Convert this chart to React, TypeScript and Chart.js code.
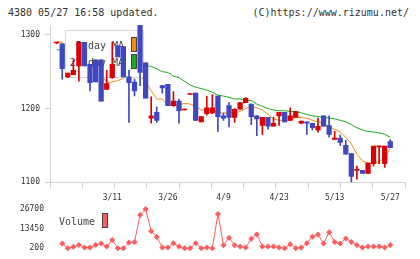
import React, { useEffect, useRef } from 'react';
import { Chart, registerables } from 'chart.js';

Chart.register(...registerables);

// ---- data ----
const openP = [1289, 1288, 1243, 1246, 1258, 1290, 1260, 1266, 1266, 1226, 1242, 1285, 1284, 1243, 1236, 1313, 1262, 1187, 1195, 1231, 1233, 1204, 1210, 1198, 1219, 1221, 1182, 1193, 1194, 1217, 1190, 1204, 1188, 1199, 1208, 1206, 1190, 1177, 1188, 1176, 1190, 1195, 1184, 1188, 1180, 1182, 1180, 1171, 1190, 1177, 1158, 1160, 1150, 1139, 1116, 1116, 1112, 1125, 1148, 1125, 1155];
const highP = [1290, 1288, 1248, 1266, 1290, 1290, 1260, 1266, 1266, 1252, 1290, 1285, 1284, 1252, 1240, 1313, 1262, 1216, 1202, 1231, 1233, 1223, 1213, 1198, 1219, 1221, 1189, 1217, 1219, 1217, 1194, 1208, 1200, 1208, 1215, 1206, 1190, 1188, 1188, 1188, 1195, 1195, 1201, 1196, 1183, 1182, 1180, 1187, 1190, 1190, 1169, 1164, 1157, 1139, 1122, 1116, 1126, 1149, 1149, 1149, 1158];
const lowP = [1288, 1240, 1242, 1246, 1237, 1258, 1224, 1236, 1210, 1226, 1241, 1270, 1243, 1181, 1217, 1231, 1214, 1180, 1181, 1221, 1204, 1203, 1180, 1198, 1219, 1184, 1182, 1191, 1193, 1169, 1184, 1175, 1181, 1199, 1208, 1178, 1163, 1165, 1172, 1176, 1177, 1182, 1184, 1188, 1179, 1165, 1171, 1168, 1176, 1161, 1158, 1150, 1138, 1099, 1104, 1112, 1112, 1122, 1125, 1120, 1147];
const closeP = [1289, 1254, 1248, 1252, 1290, 1258, 1235, 1236, 1210, 1234, 1260, 1270, 1243, 1235, 1224, 1249, 1214, 1190, 1184, 1228, 1204, 1210, 1197, 1198, 1219, 1184, 1189, 1201, 1201, 1189, 1187, 1188, 1199, 1208, 1214, 1189, 1186, 1188, 1176, 1180, 1195, 1182, 1190, 1196, 1183, 1180, 1174, 1176, 1176, 1165, 1160, 1154, 1138, 1108, 1116, 1112, 1126, 1149, 1149, 1149, 1147];
const ma5 = [1291, 1290, 1280, 1272, 1267, 1260, 1257, 1254, 1246, 1235, 1236, 1238, 1241, 1245, 1246, 1244, 1236, 1224, 1213, 1213, 1205, 1204, 1205, 1207, 1206, 1203, 1198, 1198, 1198, 1194, 1194, 1194, 1194, 1196, 1200, 1203, 1201, 1198, 1192, 1186, 1184, 1184, 1184, 1188, 1188, 1187, 1184, 1182, 1179, 1175, 1172, 1168, 1161, 1152, 1138, 1129, 1126, 1125, 1128, 1133, 1146];
const ma25 = [1280, 1279, 1278, 1277, 1277, 1276, 1274, 1273, 1271, 1270, 1268, 1267, 1266, 1265, 1263, 1261, 1259, 1257, 1254, 1250, 1249, 1244, 1242, 1237, 1232, 1229, 1227, 1225, 1222, 1218, 1217, 1215, 1213, 1213, 1211, 1211, 1206, 1203, 1200, 1198, 1197, 1197, 1196, 1196, 1194, 1192, 1190, 1189, 1188, 1187, 1186, 1184, 1182, 1178, 1174, 1171, 1169, 1168, 1167, 1165, 1161];
const volume: (number | null)[] = [null, 3300, 200, 1100, 2400, 700, 700, 2400, 3300, 1300, 5700, 200, 200, 4000, 4400, 22700, 26700, 11700, 7700, 700, 700, 3500, 1300, 200, 200, 3500, 200, 700, 200, 23400, 2200, 7300, 2200, 1300, 700, 6600, 9500, 1300, 1300, 1300, 700, 200, 2900, 200, 700, 3500, 8000, 9500, 3300, 11000, 4400, 3300, 6800, 4400, 2400, 700, 1300, 1300, 1300, 700, 2400];
const priceTicks = [1100, 1200, 1300];
const volumeTicks = [200, 13450, 26700];
const dateTickIndex = [10, 20, 30, 40, 50, 60];
const dateTickLabels = ['3/11', '3/26', '4/9', '4/23', '5/13', '5/27'];

// ---- styling ----
const X_MIN = -1.2;
const X_MAX = 62.65;
const P_MIN = 1100;
const P_MAX = 1313.4;
const MONO = '"DejaVu Sans Mono", monospace';
const UP = '#dd0000';
const DOWN = '#3f48c0';
const MA5_C = '#f08c14';
const MA25_C = '#1aaa1a';
const VOL_C = '#ff5c5c';
const AXIS_C = '#d4d4d4';
const TEXT_C = '#333333';

function PriceChart() {
  const ref = useRef<HTMLCanvasElement>(null);
  useEffect(() => {
    const idx = openP.map((_, i) => i);
    const colors = openP.map((o, i) => (closeP[i] >= o ? UP : DOWN));
    const legendPlugin = {
      id: 'maLegend',
      beforeDatasetDraw(chart: any, args: any) {
        if (args.index !== 2) return;
        const ctx = chart.ctx as CanvasRenderingContext2D;
        ctx.save();
        ctx.fillStyle = '#ffffff';
        ctx.fillRect(66, 30, 77, 47);
        ctx.strokeStyle = '#d8d8d8';
        ctx.lineWidth = 1;
        ctx.strokeRect(65.5, 30.5, 78, 47);
        ctx.font = '10px ' + MONO;
        ctx.fillStyle = '#444444';
        ctx.textAlign = 'right';
        ctx.textBaseline = 'middle';
        ctx.fillText('5-day MA', 124, 46.5);
        ctx.fillText('25-day MA', 124, 63.5);
        ctx.fillStyle = MA5_C;
        ctx.fillRect(131, 37, 6, 15);
        ctx.fillStyle = MA25_C;
        ctx.fillRect(131, 54, 6, 15);
        ctx.strokeStyle = '#444444';
        ctx.strokeRect(131.5, 37.5, 5, 14);
        ctx.strokeRect(131.5, 54.5, 5, 14);
        ctx.restore();
      },
    };
    const chart = new Chart(ref.current as HTMLCanvasElement, {
      type: 'bar',
      data: {
        datasets: [
          {
            type: 'line',
            label: '5-day MA',
            data: idx.map((i) => ({ x: i, y: ma5[i] })),
            borderColor: MA5_C,
            borderWidth: 1,
            pointRadius: 0,
            order: 2,
          } as any,
          {
            type: 'line',
            label: '25-day MA',
            data: idx.map((i) => ({ x: i, y: ma25[i] })),
            borderColor: MA25_C,
            borderWidth: 1,
            pointRadius: 0,
            order: 3,
          } as any,
          {
            type: 'bar',
            label: 'range',
            data: idx.map((i) => ({ x: i, y: [lowP[i], highP[i]] })),
            backgroundColor: colors,
            barThickness: 1,
            grouped: false,
            minBarLength: 1,
            order: 1,
          } as any,
          {
            type: 'bar',
            label: 'body',
            data: idx.map((i) => ({ x: i, y: [openP[i], closeP[i]] })),
            backgroundColor: colors,
            barThickness: 4.6,
            grouped: false,
            minBarLength: 1,
            order: 0,
          } as any,
        ],
      },
      options: {
        responsive: false,
        animation: false,
        events: [],
        layout: { padding: { top: 25, right: 15, left: 0, bottom: 0 } },
        plugins: { legend: { display: false }, tooltip: { enabled: false } },
        scales: {
          x: {
            type: 'linear',
            min: X_MIN,
            max: X_MAX,
            offset: false,
            grid: { drawOnChartArea: false, drawTicks: true, tickLength: 6, color: AXIS_C, offset: false },
            border: { display: true, color: AXIS_C },
            ticks: { callback: () => '', autoSkip: false, maxRotation: 0, font: { size: 1 } },
            afterBuildTicks: (s: any) => {
              const ticks = [];
              for (let k = 0; k <= 11; k++) ticks.push({ value: X_MIN + (k * (X_MAX - X_MIN)) / 11 });
              s.ticks = ticks;
            },
            afterFit: (s: any) => {
              s.height = 8;
            },
          },
          y: {
            type: 'linear',
            min: P_MIN,
            max: P_MAX,
            grid: { drawOnChartArea: false, drawTicks: true, tickLength: 5, color: AXIS_C },
            border: { display: true, color: AXIS_C },
            ticks: {
              font: { family: MONO, size: 8 },
              color: TEXT_C,
              padding: 5,
              callback: (v: any) => String(v),
            },
            afterBuildTicks: (s: any) => {
              s.ticks = priceTicks.map((v) => ({ value: v }));
            },
            afterFit: (s: any) => {
              s.width = 50;
            },
          },
        },
      } as any,
      plugins: [legendPlugin],
    });
    return () => chart.destroy();
  }, []);
  return (
    <canvas
      ref={ref}
      width={420}
      height={192}
      style={{ position: 'absolute', left: 0, top: 0, width: 420, height: 192 }}
    />
  );
}

function VolumeChart() {
  const ref = useRef<HTMLCanvasElement>(null);
  useEffect(() => {
    const idx = volume.map((_, i) => i);
    const volLegend = {
      id: 'volLegend',
      afterDatasetsDraw(chart: any) {
        const ctx = chart.ctx as CanvasRenderingContext2D;
        ctx.save();
        ctx.font = '10px ' + MONO;
        ctx.fillStyle = '#444444';
        ctx.textAlign = 'left';
        ctx.textBaseline = 'middle';
        ctx.fillText('Volume', 59, 37);
        ctx.fillStyle = VOL_C;
        ctx.fillRect(102, 28, 6, 15);
        ctx.strokeStyle = '#444444';
        ctx.lineWidth = 1;
        ctx.strokeRect(102.5, 28.5, 5, 14);
        ctx.restore();
      },
    };
    const chart = new Chart(ref.current as HTMLCanvasElement, {
      type: 'line',
      data: {
        datasets: [
          {
            label: 'Volume',
            data: idx.map((i) => ({ x: i, y: volume[i] })),
            borderColor: VOL_C,
            backgroundColor: VOL_C,
            borderWidth: 1,
            pointStyle: 'rectRot',
            pointRadius: 3,
            pointBorderWidth: 0,
            pointBackgroundColor: VOL_C,
            clip: false,
          } as any,
        ],
      },
      options: {
        responsive: false,
        animation: false,
        events: [],
        layout: { padding: { top: 0, right: 15, left: 0, bottom: 10 } },
        plugins: { legend: { display: false }, tooltip: { enabled: false } },
        scales: {
          x: {
            type: 'linear',
            position: 'top',
            min: X_MIN,
            max: X_MAX,
            grid: { display: false, drawTicks: false },
            border: { display: false },
            ticks: {
              font: { family: MONO, size: 8 },
              color: TEXT_C,
              padding: 6,
              autoSkip: false,
              maxRotation: 0,
              callback: (_v: any, i: number) => dateTickLabels[i],
            },
            afterBuildTicks: (s: any) => {
              s.ticks = dateTickIndex.map((v) => ({ value: v }));
            },
            afterFit: (s: any) => {
              s.height = 24;
            },
          },
          y: {
            type: 'linear',
            min: volumeTicks[0],
            max: volumeTicks[volumeTicks.length - 1],
            grid: { display: false, drawTicks: false },
            border: { display: false },
            ticks: {
              font: { family: MONO, size: 8 },
              color: TEXT_C,
              padding: 6,
              callback: (v: any) => String(v),
            },
            afterBuildTicks: (s: any) => {
              s.ticks = volumeTicks.map((v) => ({ value: v }));
            },
            afterFit: (s: any) => {
              s.width = 50;
            },
          },
        },
      } as any,
      plugins: [volLegend],
    });
    return () => chart.destroy();
  }, []);
  return (
    <canvas
      ref={ref}
      width={420}
      height={74}
      style={{ position: 'absolute', left: 0, top: 185, width: 420, height: 74 }}
    />
  );
}

export default function App() {
  const header: React.CSSProperties = {
    position: 'absolute',
    top: 7,
    fontFamily: MONO,
    fontSize: 10,
    lineHeight: '12px',
    color: TEXT_C,
    whiteSpace: 'pre',
  };
  return (
    <div style={{ position: 'absolute', left: 0, top: 0, width: 420, height: 259, background: '#fff', overflow: 'hidden' }}>
      <div style={{ ...header, left: 8 }}>4380 05/27 16:58 updated.</div>
      <div style={{ ...header, left: 0, width: 409, textAlign: 'right' }}>(C)https://www.rizumu.net/</div>
      <PriceChart />
      <VolumeChart />
    </div>
  );
}
